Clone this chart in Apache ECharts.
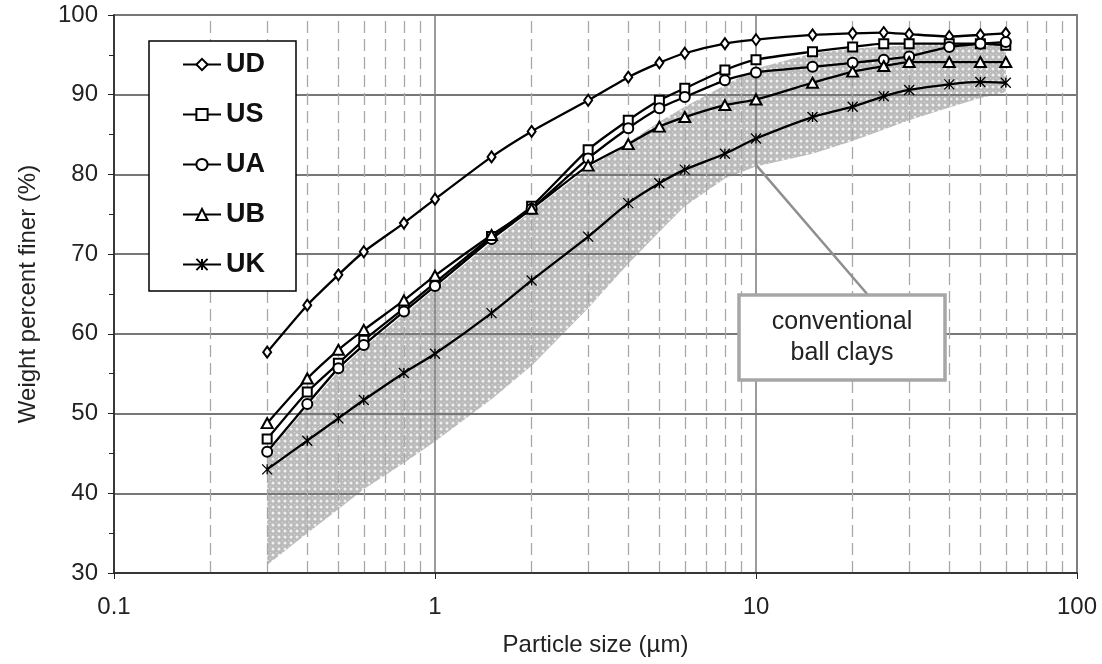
<!DOCTYPE html>
<html>
<head>
<meta charset="utf-8">
<script src="https://cdn.jsdelivr.net/npm/echarts@6/dist/echarts.min.js"></script>
<style>
html, body { margin: 0; padding: 0; background: #fff; }
#chart { width: 1102px; height: 664px; }
</style>
</head>
<body>
<div id="chart"></div>
<script>
// particle sizes (um)
var sizes = [0.3, 0.4, 0.5, 0.6, 0.8, 1, 1.5, 2, 3, 4, 5, 6, 8, 10, 15, 20, 25, 30, 40, 50, 60];
var ud = [57.7, 63.6, 67.4, 70.3, 73.9, 76.9, 82.2, 85.4, 89.3, 92.2, 94.0, 95.2, 96.4, 96.9, 97.5, 97.7, 97.8, 97.6, 97.3, 97.5, 97.7];
var us = [46.8, 52.7, 56.3, 59.2, 63.2, 66.4, 72.2, 76.0, 83.1, 86.8, 89.3, 90.8, 93.1, 94.4, 95.4, 96.0, 96.4, 96.4, 96.4, 96.4, 96.2];
var ua = [45.2, 51.2, 55.7, 58.6, 62.8, 66.0, 71.9, 75.7, 82.0, 85.8, 88.3, 89.7, 91.8, 92.8, 93.5, 94.0, 94.4, 94.8, 96.0, 96.4, 96.6];
var ub = [48.8, 54.4, 58.0, 60.5, 64.2, 67.3, 72.4, 75.7, 81.1, 83.8, 86.0, 87.2, 88.7, 89.4, 91.5, 92.9, 93.6, 94.1, 94.1, 94.1, 94.1];
var uk = [43.0, 46.6, 49.4, 51.7, 55.1, 57.5, 62.6, 66.7, 72.2, 76.4, 78.9, 80.6, 82.6, 84.5, 87.2, 88.5, 89.8, 90.6, 91.3, 91.6, 91.5];

// shaded range "conventional ball clays"
var bandSizes = [0.3, 0.4, 0.5, 0.6, 0.8, 1, 1.5, 2, 3, 4, 5, 6, 8, 10, 15, 20, 30, 40, 50, 60];
var bandLow = [31.0, 35.0, 38.0, 40.5, 43.8, 46.5, 51.8, 56.0, 63.2, 68.8, 72.8, 76.0, 79.5, 81.0, 82.6, 84.2, 86.8, 88.4, 89.6, 90.3];
var bandHigh = [45.0, 50.8, 55.3, 58.3, 62.4, 65.7, 71.5, 75.4, 80.8, 84.0, 86.6, 88.5, 91.2, 93.3, 95.2, 95.8, 96.2, 96.4, 96.5, 96.5];

var minorSizes = [0.2, 0.3, 0.4, 0.5, 0.6, 0.7, 0.8, 0.9, 2, 3, 4, 5, 6, 7, 8, 9, 20, 30, 40, 50, 60, 70, 80, 90];

var font = "'Liberation Sans', Arial, sans-serif";

function pairs(xs, ys) {
  return xs.map(function (x, i) { return [x, ys[i]]; });
}

// dotted grey fill like the original hatch
var pat = document.createElement("canvas");
pat.width = 6;
pat.height = 6;
var pc = pat.getContext("2d");
pc.fillStyle = "#bababa";
pc.fillRect(0, 0, 6, 6);
pc.fillStyle = "rgba(255,255,255,0.8)";
pc.beginPath();
pc.arc(3, 3, 1.5, 0, Math.PI * 2);
pc.fill();
pc.fillStyle = "rgba(255,255,255,0.5)";
pc.fillRect(0, 0, 1, 1);

function lineSeries(name, vals, symbol, size) {
  return {
    name: name,
    type: "line",
    data: pairs(sizes, vals),
    smooth: 0.2,
    symbol: symbol,
    symbolSize: size,
    showSymbol: true,
    z: 3,
    lineStyle: { color: "#000", width: 2.3 },
    itemStyle: { color: "#000", borderColor: "#000", borderWidth: 1.3 },
    emphasis: { disabled: true }
  };
}

var asterisk = "path://M0,0L10,10M10,0L0,10M5,0L5,10";

var chart = echarts.init(document.getElementById("chart"));
chart.setOption({
  animation: false,
  textStyle: { fontFamily: font },
  grid: { left: 114, top: 15, right: 25, bottom: 91, show: true, borderColor: "#8a8a8a", borderWidth: 2 },
  legend: {
    data: ["UD", "US", "UA", "UB", "UK"],
    orient: "vertical",
    left: 149,
    top: 41,
    padding: [10, 31, 13, 33],
    itemWidth: 38,
    itemHeight: 14,
    itemGap: 23,
    backgroundColor: "#fff",
    borderColor: "#000",
    borderWidth: 1.5,
    z: 10,
    textStyle: { fontSize: 27, fontWeight: "bold", color: "#111", fontFamily: font }
  },
  xAxis: {
    type: "log",
    logBase: 10,
    min: 0.1,
    max: 100,
    z: 1,
    name: "Particle size (\u00b5m)",
    nameLocation: "middle",
    nameGap: 60,
    nameTextStyle: { fontSize: 24, color: "#222" },
    axisLine: { lineStyle: { color: "#222", width: 1.5 } },
    axisTick: { show: true, length: 6, lineStyle: { color: "#222" } },
    axisLabel: { fontSize: 24, color: "#222", margin: 22,
      formatter: function (v) { return String(v); } },
    splitLine: { show: true, lineStyle: { color: "#7a7a7a", width: 1.5 } }
  },
  yAxis: {
    type: "value",
    min: 30,
    max: 100,
    interval: 10,
    z: 1,
    name: "Weight percent finer (%)",
    nameLocation: "middle",
    nameGap: 74,
    nameTextStyle: { fontSize: 24, color: "#222" },
    axisLine: { show: true, lineStyle: { color: "#222", width: 1.5 } },
    axisTick: { show: true, length: 6, lineStyle: { color: "#222" } },
    minorTick: { show: true, splitNumber: 2, length: 5, lineStyle: { color: "#222" } },
    axisLabel: { fontSize: 24, color: "#222", margin: 16 },
    splitLine: { show: true, lineStyle: { color: "#777", width: 2 } }
  },
  series: [
    {
      name: "conventional ball clays",
      type: "custom",
      z: 0,
      silent: true,
      data: [[bandSizes[0], bandLow[0]]],
      encode: { x: 0, y: 1 },
      renderItem: function (params, api) {
        if (params.dataIndex !== 0) return;
        var pts = [];
        for (var i = 0; i < bandSizes.length; i++) pts.push(api.coord([bandSizes[i], bandHigh[i]]));
        for (var j = bandSizes.length - 1; j >= 0; j--) pts.push(api.coord([bandSizes[j], bandLow[j]]));
        return {
          type: "polygon",
          shape: { points: pts },
          style: { fill: { image: pat, repeat: "repeat" }, stroke: null }
        };
      }
    },
    {
      name: "minor",
      type: "line",
      data: [],
      silent: true,
      markLine: {
        silent: true,
        z: 1,
        symbol: ["none", "none"],
        label: { show: false },
        lineStyle: { color: "#a8a8a8", width: 1.3, type: [12, 6] },
        data: minorSizes.map(function (v) { return { xAxis: v }; })
      }
    },
    lineSeries("UD", ud, "emptyDiamond", [8, 11]),
    lineSeries("US", us, "emptyRect", 9),
    lineSeries("UA", ua, "emptyCircle", 10),
    lineSeries("UB", ub, "emptyTriangle", [11, 10]),
    lineSeries("UK", uk, asterisk, 10)
  ]
});

// annotation box with leader line
var tip = chart.convertToPixel({ gridIndex: 0 }, [10, 81.2]);
chart.setOption({
  graphic: [
    {
      type: "line",
      z: 5,
      shape: { x1: tip[0], y1: tip[1], x2: 868, y2: 295 },
      style: { stroke: "#8f8f8f", lineWidth: 2.5 }
    },
    {
      type: "rect",
      z: 6,
      shape: { x: 739, y: 295, width: 206, height: 85 },
      style: { fill: "#fff", stroke: "#a6a6a6", lineWidth: 3.5 }
    },
    {
      type: "text",
      z: 7,
      x: 842,
      y: 338,
      style: {
        text: "conventional\nball clays",
        fontSize: 25,
        lineHeight: 31,
        fontFamily: font,
        fill: "#222",
        align: "center",
        verticalAlign: "middle"
      }
    }
  ]
});
</script>
</body>
</html>
